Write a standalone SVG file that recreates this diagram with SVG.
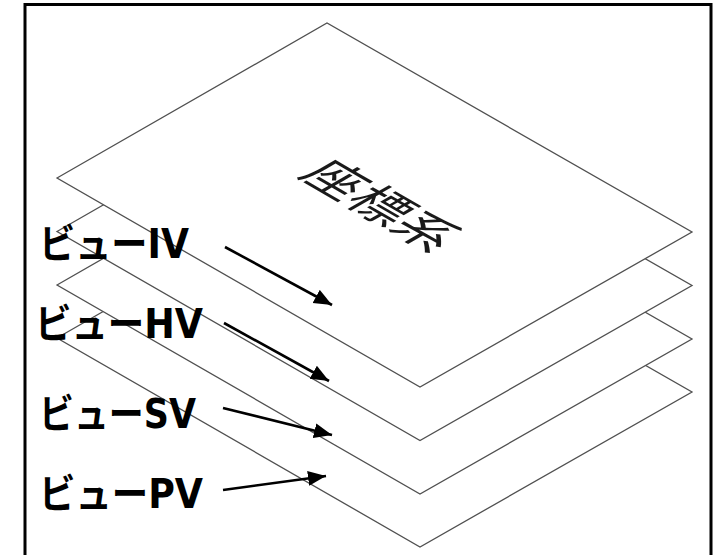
<svg xmlns="http://www.w3.org/2000/svg" width="718" height="555" viewBox="0 0 718 555">
<defs>
<style>
.sheet{fill:#fff;stroke:#505050;stroke-width:1.3;stroke-linejoin:miter}
.lbl{font-family:"DejaVu Sans","Noto Sans CJK JP",sans-serif;font-weight:bold;font-size:40px;fill:#000}
.arr{stroke:#000;stroke-width:2.6;fill:none;marker-end:url(#ah)}
.title{font-family:"Noto Sans CJK JP",sans-serif;font-size:52px;fill:#1a1a1a;text-anchor:middle}
</style>
<marker id="ah" markerUnits="userSpaceOnUse" markerWidth="19" markerHeight="16" refX="18" refY="7.5" orient="auto" viewBox="0 0 19 16">
<path d="M0,0 L18,7.5 L0,15 Z" fill="#000"/>
</marker>
</defs>
<rect x="0" y="0" width="718" height="555" fill="#fff"/>
<path d="M25,556 V4.5 H711 V556" fill="none" stroke="#000" stroke-width="3"/>
<g id="sheet-pv"><polygon class="sheet" points="57,338 327,183 692,392 420,547"/></g>
<g id="sheet-sv"><polygon class="sheet" points="57,285 327,130 692,339 420,494"/></g>
<g id="sheet-hv"><polygon class="sheet" points="57,231.5 327,76.5 692,285.5 420,440.5"/></g>
<g id="sheet-iv"><polygon class="sheet" points="57,178 327,23 692,232 420,387"/>
<text class="title" transform="matrix(0.866 0.5 -0.866 0.5 364.9 214.9)" x="-52 0 52" y="0">座標系</text>
</g>
<g id="label-iv"><text class="lbl" x="39" y="258" textLength="150" lengthAdjust="spacingAndGlyphs">ビューIV</text></g>
<g id="label-hv"><text class="lbl" x="35" y="338" textLength="168" lengthAdjust="spacingAndGlyphs">ビューHV</text></g>
<g id="label-sv"><text class="lbl" x="39" y="428" textLength="157" lengthAdjust="spacingAndGlyphs">ビューSV</text></g>
<g id="label-pv"><text class="lbl" x="39" y="508" textLength="164" lengthAdjust="spacingAndGlyphs">ビューPV</text></g>
<g id="connectors">
<line class="arr" x1="225" y1="247" x2="332" y2="305"/>
<line class="arr" x1="224" y1="323" x2="329" y2="381"/>
<line class="arr" x1="223" y1="408" x2="332" y2="435"/>
<line class="arr" x1="223" y1="490" x2="326" y2="476"/>
</g>
</svg>
